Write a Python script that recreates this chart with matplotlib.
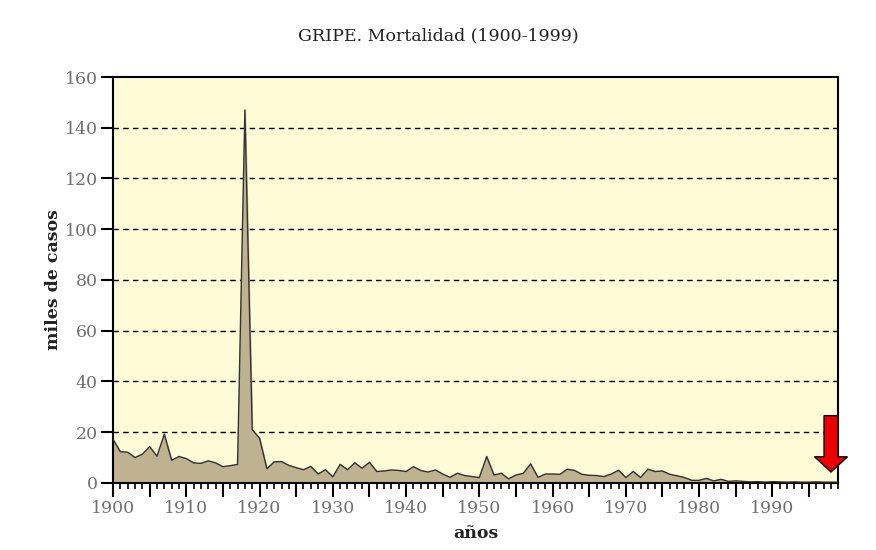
import matplotlib.pyplot as plt
from matplotlib.ticker import MultipleLocator, FuncFormatter

years = list(range(1900, 2000))
deaths = [
    17.2, 12.3, 12.1, 10.0, 11.3, 14.3, 10.5, 19.2, 8.9, 10.4,   # 1900s
    9.6, 7.9, 7.7, 8.7, 7.9, 6.4, 6.8, 7.3, 147.0, 21.0,        # 1910s
    17.6, 5.6, 8.3, 8.4, 6.9, 6.0, 5.2, 6.5, 3.5, 5.2,          # 1920s
    2.4, 7.3, 5.2, 7.9, 5.8, 8.1, 4.5, 4.7, 5.1, 4.9,           # 1930s
    4.5, 6.4, 4.9, 4.3, 5.1, 3.5, 2.2, 3.8, 2.9, 2.5,           # 1940s
    2.1, 10.4, 3.1, 3.8, 1.6, 3.1, 3.8, 7.5, 2.2, 3.5,          # 1950s
    3.5, 3.4, 5.4, 4.9, 3.4, 3.0, 2.9, 2.5, 3.5, 5.0,           # 1960s
    2.1, 4.5, 2.1, 5.4, 4.5, 4.7, 3.4, 2.8, 2.1, 1.0,           # 1970s
    1.0, 1.8, 0.8, 1.4, 0.6, 0.8, 0.6, 0.4, 0.5, 0.3,           # 1980s
    0.5, 0.4, 0.3, 0.4, 0.3, 0.3, 0.4, 0.3, 0.3, 0.3,           # 1990s
]
arrow_year = 1998
arrow_top = 26.5
arrow_tip = 4.3

serif = ['DejaVu Serif']

fig = plt.figure(figsize=(8.76, 5.5), dpi=100)
ax = fig.add_axes([0.129, 0.122, 0.828, 0.738])
ax.set_facecolor('#fffbd6')

ax.fill_between(years, deaths, 0, color='#bfb291', zorder=2)
ax.plot(years, deaths, color='#333333', linewidth=1.0, zorder=3)

ax.set_xlim(1900, 1999)
ax.set_ylim(0, 160)

for y in range(20, 160, 20):
    ax.axhline(y, color='black', linewidth=1.0, linestyle=(0, (4, 3)), zorder=1)

ax.yaxis.set_major_locator(MultipleLocator(20))
ax.xaxis.set_major_locator(MultipleLocator(5))
ax.xaxis.set_minor_locator(MultipleLocator(1))
ax.xaxis.set_major_formatter(FuncFormatter(lambda v, p: f"{int(v)}" if int(v) % 10 == 0 else ""))

ax.tick_params(axis='y', length=9, width=1.5, direction='out', colors='black',
               labelcolor='#707070', labelsize=12.5, pad=2)
ax.tick_params(axis='x', which='major', length=10, width=1.5, direction='out',
               labelcolor='#707070', labelsize=12.5, pad=2)
ax.tick_params(axis='x', which='minor', length=4, width=1.2, direction='out')
for lab in ax.get_xticklabels() + ax.get_yticklabels():
    lab.set_family(serif)

for s in ax.spines.values():
    s.set_linewidth(1.5)
    s.set_color('black')

fig.text(0.5, 0.935, "GRIPE. Mortalidad (1900-1999)", family=serif, fontsize=12.5,
         color='#222222', ha='center', va='center')
ax.set_ylabel("miles de casos", family=serif, fontsize=12.5, fontweight='bold',
              color='#222222', labelpad=2)
ax.set_xlabel("años", family=serif, fontsize=12.5, fontweight='bold',
              color='#222222', labelpad=6)

ax.arrow(arrow_year, arrow_top, 0, arrow_tip - arrow_top, width=1.9,
         head_width=4.5, head_length=6.0, length_includes_head=True,
         facecolor='#ee0000', edgecolor='black', linewidth=1.0,
         clip_on=False, zorder=5)

plt.savefig("out.png", dpi=100)
